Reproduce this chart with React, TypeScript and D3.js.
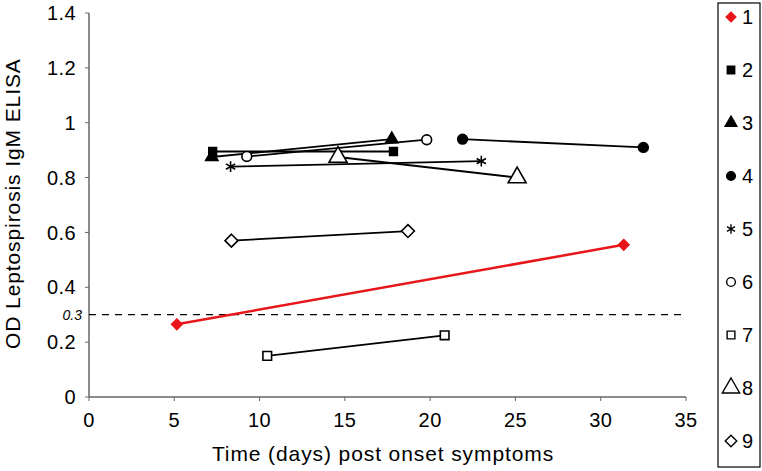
import * as d3 from "d3";
import { useEffect } from "react";

// patient id, days at first/second sample, OD at first/second sample
const patients = ["1", "2", "3", "4", "5", "6", "7", "8", "9"];
const days = [
  [5.15, 31.35],
  [7.25, 17.85],
  [7.2, 17.75],
  [21.9, 32.5],
  [8.3, 23.0],
  [9.25, 19.8],
  [10.45, 20.85],
  [14.6, 25.1],
  [8.35, 18.7],
];
const od = [
  [0.265, 0.555],
  [0.895, 0.895],
  [0.875, 0.94],
  [0.94, 0.91],
  [0.84, 0.86],
  [0.877, 0.938],
  [0.15, 0.225],
  [0.875, 0.8],
  [0.57, 0.605],
];
const cutoff = 0.3;
const xTicks = [0, 5, 10, 15, 20, 25, 30, 35];
const yTicks = [0, 0.2, 0.4, 0.6, 0.8, 1, 1.2, 1.4];

type Mark = { type: d3.SymbolType; fill: string; stroke: string; size: number; legendSize: number };
const marks: Mark[] = [
  { type: d3.symbolDiamond2, fill: "#e8161b", stroke: "#e8161b", size: 70, legendSize: 60 },
  { type: d3.symbolSquare, fill: "#000", stroke: "#000", size: 60, legendSize: 55 },
  { type: d3.symbolTriangle, fill: "#000", stroke: "#000", size: 65, legendSize: 60 },
  { type: d3.symbolCircle, fill: "#000", stroke: "#000", size: 75, legendSize: 60 },
  { type: d3.symbolAsterisk, fill: "none", stroke: "#000", size: 80, legendSize: 60 },
  { type: d3.symbolCircle, fill: "#fff", stroke: "#000", size: 75, legendSize: 60 },
  { type: d3.symbolSquare, fill: "#fff", stroke: "#000", size: 75, legendSize: 60 },
  { type: d3.symbolTriangle, fill: "#fff", stroke: "#000", size: 140, legendSize: 130 },
  { type: d3.symbolDiamond2, fill: "#fff", stroke: "#000", size: 105, legendSize: 85 },
];

const font = "'Liberation Sans', Arial, Helvetica, sans-serif";

export default function App() {
  useEffect(() => {
    document.body.style.margin = "0";
  }, []);

  const x = d3.scaleLinear().domain([0, 35]).range([89, 686]);
  const y = d3.scaleLinear().domain([0, 1.4]).range([397, 13]);
  const line = d3
    .line<[number, number]>()
    .x((d) => x(d[0]))
    .y((d) => y(d[1]));
  const axisColor = "#666";

  return (
    <svg width={762} height={471} style={{ display: "block", fontFamily: font }}>
      <rect width={762} height={471} fill="#fff" />
      {/* axes */}
      <line x1={x(0)} x2={x(0)} y1={y(1.4)} y2={y(0)} stroke={axisColor} strokeWidth={1.5} />
      <line x1={x(0)} x2={x(35)} y1={y(0)} y2={y(0)} stroke={axisColor} strokeWidth={1.5} />
      {yTicks.map((t) => (
        <g key={"y" + t}>
          <line x1={x(0) - 4} x2={x(0)} y1={y(t)} y2={y(t)} stroke={axisColor} strokeWidth={1} />
          <text x={76} y={y(t)} dy="0.36em" textAnchor="end" fontSize={20} letterSpacing={0.4} fill="#000">
            {d3.format("~g")(t)}
          </text>
        </g>
      ))}
      {xTicks.map((t) => (
        <g key={"x" + t}>
          <line x1={x(t)} x2={x(t)} y1={y(0)} y2={y(0) + 4} stroke={axisColor} strokeWidth={1} />
          <text x={x(t)} y={427} textAnchor="middle" fontSize={20} letterSpacing={0.4} fill="#000">
            {t}
          </text>
        </g>
      ))}
      <text x={82} y={y(cutoff)} dy="0.35em" textAnchor="end" fontSize={14} fontStyle="italic" fill="#000">
        {cutoff}
      </text>
      <line
        x1={x(0)}
        x2={x(35)}
        y1={y(cutoff)}
        y2={y(cutoff)}
        stroke="#000"
        strokeWidth={1.3}
        strokeDasharray="7,6"
      />
      <text x={383} y={461} textAnchor="middle" fontSize={21} letterSpacing={0.9} fill="#000">
        Time (days) post onset symptoms
      </text>
      <text
        transform={`translate(20,${y(0.705)}) rotate(-90)`}
        textAnchor="middle"
        fontSize={21}
        letterSpacing={0.9}
        fill="#000"
      >
        OD Leptospirosis IgM ELISA
      </text>

      {/* series */}
      {patients.map((p, i) => {
        const pts = days[i].map((d, j) => [d, od[i][j]] as [number, number]);
        const m = marks[i];
        const sym = d3.symbol(m.type, m.size)()!;
        const red = i === 0;
        return (
          <g key={p}>
            <path
              d={line(pts)!}
              fill="none"
              stroke={red ? "#e8161b" : "#000"}
              strokeWidth={red ? 2.5 : 1.8}
            />
            {pts.map((pt, j) => (
              <path
                key={j}
                d={sym}
                transform={`translate(${x(pt[0])},${y(pt[1])})`}
                fill={m.fill}
                stroke={m.stroke}
                strokeWidth={1.6}
              />
            ))}
          </g>
        );
      })}

      {/* legend */}
      <rect x={718} y={3} width={42} height={464} fill="#fff" stroke="#000" strokeWidth={1.2} />
      {patients.map((p, i) => {
        const m = marks[i];
        const cy = 17 + i * 53;
        return (
          <g key={"l" + p}>
            <path
              d={d3.symbol(m.type, m.legendSize)()!}
              transform={`translate(731,${cy})`}
              fill={m.fill}
              stroke={m.stroke}
              strokeWidth={1.4}
            />
            <text x={742} y={cy} dy="0.36em" fontSize={20} fill="#000">
              {p}
            </text>
          </g>
        );
      })}
    </svg>
  );
}
